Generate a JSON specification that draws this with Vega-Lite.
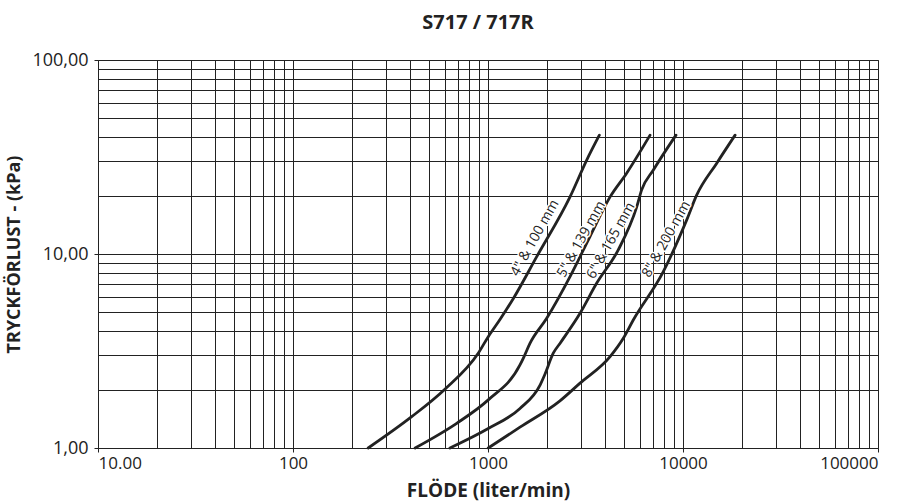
{
  "$schema": "https://vega.github.io/schema/vega-lite/v6.json",
  "width": 780,
  "height": 388,
  "autosize": {"type": "none"},
  "padding": {"left": 98, "top": 60, "right": 34, "bottom": 56},
  "background": "white",
  "title": {
    "text": "S717 / 717R",
    "font": "Open Sans",
    "fontSize": 20,
    "fontWeight": "bold",
    "color": "#222",
    "anchor": "middle",
    "dx": -10,
    "offset": 18
  },
  "config": {
    "view": {"stroke": "#4a4a30", "strokeWidth": 1},
    "font": "Open Sans"
  },
  "datasets": {
    "curves": [
      {"size": "4\" & 100 mm", "flow": 243, "dp": 1.0},
      {"size": "4\" & 100 mm", "flow": 406, "dp": 1.45},
      {"size": "4\" & 100 mm", "flow": 601, "dp": 2.01},
      {"size": "4\" & 100 mm", "flow": 891, "dp": 3.08},
      {"size": "4\" & 100 mm", "flow": 1003, "dp": 3.75},
      {"size": "4\" & 100 mm", "flow": 1152, "dp": 4.6},
      {"size": "4\" & 100 mm", "flow": 1349, "dp": 5.9},
      {"size": "4\" & 100 mm", "flow": 1778, "dp": 9.69},
      {"size": "4\" & 100 mm", "flow": 2634, "dp": 19.7},
      {"size": "4\" & 100 mm", "flow": 3208, "dp": 30.5},
      {"size": "4\" & 100 mm", "flow": 3726, "dp": 41},
      {"size": "5\" & 139 mm", "flow": 423, "dp": 1.0},
      {"size": "5\" & 139 mm", "flow": 691, "dp": 1.34},
      {"size": "5\" & 139 mm", "flow": 1003, "dp": 1.77},
      {"size": "5\" & 139 mm", "flow": 1459, "dp": 2.68},
      {"size": "5\" & 139 mm", "flow": 1531, "dp": 2.96},
      {"size": "5\" & 139 mm", "flow": 1641, "dp": 3.46},
      {"size": "5\" & 139 mm", "flow": 2000, "dp": 4.66},
      {"size": "5\" & 139 mm", "flow": 2634, "dp": 7.64},
      {"size": "5\" & 139 mm", "flow": 3334, "dp": 12.3},
      {"size": "5\" & 139 mm", "flow": 4227, "dp": 19.7},
      {"size": "5\" & 139 mm", "flow": 5140, "dp": 26.1},
      {"size": "5\" & 139 mm", "flow": 6778, "dp": 41},
      {"size": "6\" & 165 mm", "flow": 638, "dp": 1.0},
      {"size": "6\" & 165 mm", "flow": 1003, "dp": 1.26},
      {"size": "6\" & 165 mm", "flow": 1459, "dp": 1.6},
      {"size": "6\" & 165 mm", "flow": 1849, "dp": 2.11},
      {"size": "6\" & 165 mm", "flow": 1959, "dp": 2.4},
      {"size": "6\" & 165 mm", "flow": 2161, "dp": 3.08},
      {"size": "6\" & 165 mm", "flow": 2339, "dp": 3.46},
      {"size": "6\" & 165 mm", "flow": 2965, "dp": 4.95},
      {"size": "6\" & 165 mm", "flow": 3606, "dp": 7.06},
      {"size": "6\" & 165 mm", "flow": 4656, "dp": 10.5},
      {"size": "6\" & 165 mm", "flow": 5790, "dp": 17.5},
      {"size": "6\" & 165 mm", "flow": 6138, "dp": 21.4},
      {"size": "6\" & 165 mm", "flow": 7047, "dp": 27.1},
      {"size": "6\" & 165 mm", "flow": 9204, "dp": 41},
      {"size": "8\" & 200 mm", "flow": 1003, "dp": 1.0},
      {"size": "8\" & 200 mm", "flow": 1459, "dp": 1.28},
      {"size": "8\" & 200 mm", "flow": 2339, "dp": 1.75},
      {"size": "8\" & 200 mm", "flow": 2965, "dp": 2.16},
      {"size": "8\" & 200 mm", "flow": 4227, "dp": 2.96},
      {"size": "8\" & 200 mm", "flow": 4942, "dp": 3.68},
      {"size": "8\" & 200 mm", "flow": 5559, "dp": 4.57},
      {"size": "8\" & 200 mm", "flow": 7925, "dp": 8.11},
      {"size": "8\" & 200 mm", "flow": 10450, "dp": 15.0},
      {"size": "8\" & 200 mm", "flow": 11750, "dp": 20.1},
      {"size": "8\" & 200 mm", "flow": 14900, "dp": 29.4},
      {"size": "8\" & 200 mm", "flow": 18500, "dp": 41}
    ],
    "labels": [
      {"size": "4\" & 100 mm", "flow": 1742, "dp": 12.1},
      {"size": "5\" & 139 mm", "flow": 3013, "dp": 11.9},
      {"size": "6\" & 165 mm", "flow": 4273, "dp": 11.7},
      {"size": "8\" & 200 mm", "flow": 8222, "dp": 11.9}
    ]
  },
  "encoding": {
    "x": {
      "field": "flow",
      "type": "quantitative",
      "scale": {"type": "log", "domain": [10, 100000], "nice": false},
      "axis": {
        "title": "FLÖDE (liter/min)",
        "titleFont": "Open Sans",
        "titleFontSize": 19,
        "titleFontWeight": "bold",
        "titleColor": "#222",
        "titlePadding": 10,
        "values": [10,20,30,40,50,60,70,80,90,100,200,300,400,500,600,700,800,900,1000,2000,3000,4000,5000,6000,7000,8000,9000,10000,20000,30000,40000,50000,60000,70000,80000,90000,100000],
        "labelExpr": "datum.value == 10 ? '10.00' : (indexof([100,1000,10000,100000], datum.value) >= 0 ? format(datum.value, 'd') : '')",
        "labelOverlap": false,
        "labelFontSize": 17,
        "labelColor": "#222",
        "labelPadding": 3,
        "tickSize": {"condition": {"test": "indexof([10,100,1000,10000,100000], datum.value) >= 0", "value": 4}, "value": 0},
        "tickColor": "#222",
        "grid": true,
        "gridColor": "#222",
        "gridWidth": 1,
        "gridOpacity": 1,
        "domain": false
      }
    },
    "y": {
      "field": "dp",
      "type": "quantitative",
      "scale": {"type": "log", "domain": [1, 100], "nice": false},
      "axis": {
        "title": "TRYCKFÖRLUST - (kPa)",
        "titleFont": "Open Sans",
        "titleFontSize": 18,
        "titleFontWeight": "bold",
        "titleColor": "#222",
        "titlePadding": 8,
        "values": [1,2,3,4,5,6,7,8,9,10,20,30,40,50,60,70,80,90,100],
        "labelExpr": "indexof([1,10,100], datum.value) >= 0 ? replace(format(datum.value, '.2f'), '.', ',') : ''",
        "labelOverlap": false,
        "labelFontSize": 18,
        "labelColor": "#222",
        "labelPadding": 6,
        "tickSize": {"condition": {"test": "indexof([1,10,100], datum.value) >= 0", "value": 4}, "value": 0},
        "tickColor": "#222",
        "grid": true,
        "gridColor": "#222",
        "gridWidth": 1,
        "gridOpacity": 1,
        "domain": false
      }
    }
  },
  "layer": [
    {
      "data": {"name": "curves"},
      "mark": {"type": "line", "interpolate": "monotone", "stroke": "#222", "strokeWidth": 2.8, "strokeCap": "round"},
      "encoding": {
        "detail": {"field": "size", "type": "nominal"},
        "order": {"field": "flow", "type": "quantitative"}
      }
    },
    {
      "data": {"name": "labels"},
      "mark": {"type": "text", "angle": -61, "align": "center", "baseline": "middle", "fontSize": 14, "font": "Open Sans", "stroke": "white", "strokeWidth": 3, "strokeJoin": "round", "fill": "white"},
      "encoding": {"text": {"field": "size", "type": "nominal"}}
    },
    {
      "data": {"name": "labels"},
      "mark": {"type": "text", "angle": -61, "align": "center", "baseline": "middle", "fontSize": 14, "font": "Open Sans", "fill": "#222"},
      "encoding": {"text": {"field": "size", "type": "nominal"}}
    }
  ]
}
